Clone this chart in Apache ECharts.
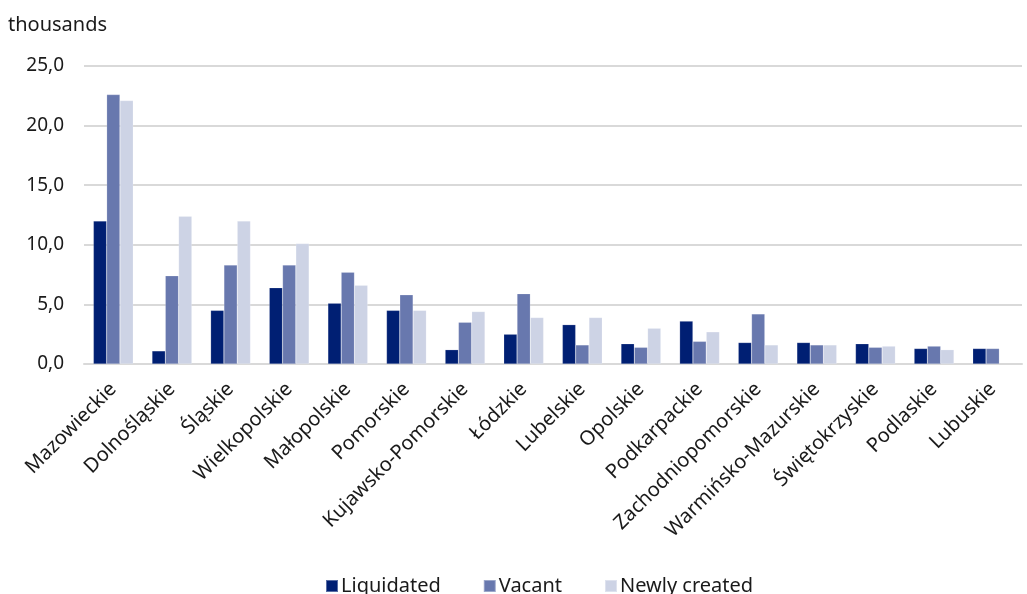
<!DOCTYPE html>
<html>
<head>
<meta charset="utf-8">
<script src="https://cdn.jsdelivr.net/npm/echarts@6/dist/echarts.min.js"></script>
<style>html,body{margin:0;padding:0;background:#fff}#c{width:1027px;height:594px}</style>
</head>
<body>
<div id="c"></div>
<script>
const categories = ['Mazowieckie','Dolnośląskie','Śląskie','Wielkopolskie','Małopolskie','Pomorskie','Kujawsko-Pomorskie','Łódzkie','Lubelskie','Opolskie','Podkarpackie','Zachodniopomorskie','Warmińsko-Mazurskie','Świętokrzyskie','Podlaskie','Lubuskie'];
const liquidated = [12.0, 1.1, 4.5, 6.4, 5.1, 4.5, 1.2, 2.5, 3.3, 1.7, 3.6, 1.8, 1.8, 1.7, 1.3, 1.3];
const vacant = [22.6, 7.4, 8.3, 8.3, 7.7, 5.8, 3.5, 5.9, 1.6, 1.4, 1.9, 4.2, 1.6, 1.4, 1.5, 1.3];
const newlyCreated = [22.1, 12.4, 12.0, 10.1, 6.6, 4.5, 4.4, 3.9, 3.9, 3.0, 2.7, 1.6, 1.6, 1.5, 1.2, null];
const seriesNames = ['Liquidated','Vacant','Newly created'];
const colors = ['#001f73','#6878ae','#cdd3e5'];
const FONT = 'Noto Sans';

const chart = echarts.init(document.getElementById('c'));
const mk = (name, data, color) => ({
  name, type: 'bar', data, barGap: '0%', barCategoryGap: '32%',
  itemStyle: { color, borderColor: 'rgba(255,255,255,0.35)', borderWidth: 0.5 }
});
chart.setOption({
  animation: false,
  textStyle: { fontFamily: FONT },
  title: { text: 'thousands', left: 3, top: 10, textStyle: { fontFamily: FONT, fontSize: 20, fontWeight: 'normal', color: '#1a1a1a' } },
  grid: { left: 84, right: 5, top: 66, bottom: 230, containLabel: false },
  legend: {
    bottom: -7, left: 320, itemWidth: 12, itemHeight: 12, itemGap: 42, icon: 'rect',
    textStyle: { fontFamily: FONT, fontSize: 20, color: '#1a1a1a', padding: [0, 0, 0, -2] },
    data: seriesNames
  },
  xAxis: {
    type: 'category', data: categories,
    axisLine: { lineStyle: { color: '#d9d9d9', width: 2 } },
    axisTick: { show: false },
    axisLabel: { rotate: 45, interval: 0, fontSize: 20, color: '#1a1a1a', margin: 22, fontFamily: FONT }
  },
  yAxis: {
    type: 'value', min: 0, max: 25, interval: 5,
    axisLine: { show: false }, axisTick: { show: false },
    splitLine: { lineStyle: { color: '#d9d9d9', width: 2 } },
    axisLabel: { fontSize: 19, color: '#1a1a1a', margin: 20, fontFamily: FONT, formatter: v => v.toFixed(1).replace('.', ',') }
  },
  series: [mk(seriesNames[0], liquidated, colors[0]), mk(seriesNames[1], vacant, colors[1]), mk(seriesNames[2], newlyCreated, colors[2])]
});
</script>
</body>
</html>
